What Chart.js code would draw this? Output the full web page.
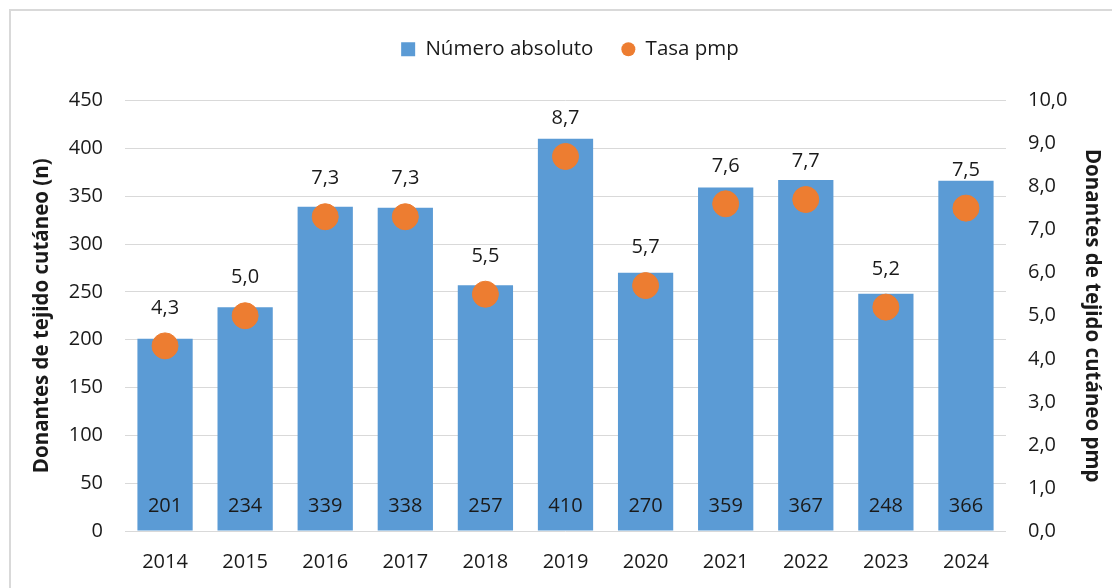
<!DOCTYPE html>
<html>
<head>
<meta charset="utf-8">
<script src="https://cdn.jsdelivr.net/npm/chart.js@4/dist/chart.umd.min.js"></script>
<style>
html,body{margin:0;padding:0;background:#fff;}
#wrap{width:1112px;height:588px;position:relative;}
</style>
</head>
<body>
<div id="wrap"><canvas id="c" width="1112" height="588"></canvas></div>
<script>
const categories = ['2014','2015','2016','2017','2018','2019','2020','2021','2022','2023','2024'];
const absoluteValues = [201,234,339,338,257,410,270,359,367,248,366];
const rateValues = [4.3,5.0,7.3,7.3,5.5,8.7,5.7,7.6,7.7,5.2,7.5];
const leftTickValues = [0,50,100,150,200,250,300,350,400,450];
const rightTickValues = [0,1,2,3,4,5,6,7,8,9,10];

const FONT = "'Open Sans', sans-serif";
const TXT = '#1a1a1a';
const TICK_SIZE = 20;

const frame = {
  id:'frame',
  afterInit(chart){
    const lg = chart.legend;
    if (lg && !lg._patched) {
      const orig = lg.fit.bind(lg);
      lg.fit = function(){ orig(); this.height += 31; };
      lg._patched = true;
    }
  },
  beforeDraw(chart){
    const ctx = chart.ctx;
    ctx.save();
    ctx.fillStyle='#fff';
    ctx.fillRect(0,0,chart.width,chart.height);
    ctx.strokeStyle='#d9d9d9';
    ctx.lineWidth=2;
    ctx.beginPath();
    ctx.moveTo(10,chart.height);
    ctx.lineTo(10,10);
    ctx.lineTo(chart.width,10);
    ctx.stroke();
    ctx.restore();
  }
};

const labels = {
  id:'labels',
  afterDatasetsDraw(chart){
    const ctx = chart.ctx;
    ctx.save();
    ctx.font = TICK_SIZE + "px " + FONT;
    ctx.fillStyle = TXT;
    ctx.textAlign='center';
    ctx.textBaseline='middle';
    const y0 = chart.scales.y.getPixelForValue(0);
    chart.getDatasetMeta(0).data.forEach((el,i)=>{
      ctx.fillText(String(absoluteValues[i]), el.x, y0-25);
    });
    chart.getDatasetMeta(1).data.forEach((el,i)=>{
      ctx.fillText(rateValues[i].toFixed(1).replace('.',','), el.x, el.y-38);
    });
    ctx.restore();
  }
};

new Chart(document.getElementById('c'), {
  type:'bar',
  data:{
    labels:categories,
    datasets:[
      {
        type:'bar',
        label:'Número absoluto',
        data:absoluteValues,
        backgroundColor:'#5B9BD5',
        borderColor:'#5B9BD5',
        borderWidth:0,
        categoryPercentage:1,
        barPercentage:0.69,
        yAxisID:'y',
        order:2
      },
      {
        type:'line',
        label:'Tasa pmp',
        data:rateValues,
        showLine:false,
        pointRadius:13,
        pointHoverRadius:13,
        pointBackgroundColor:'#ED7D31',
        pointBorderColor:'#ED7D31',
        backgroundColor:'#ED7D31',
        borderColor:'#ED7D31',
        pointStyle:'circle',
        yAxisID:'y1',
        order:1
      }
    ]
  },
  options:{
    responsive:false,
    animation:false,
    layout:{padding:{left:30,right:2,top:11,bottom:3}},
    plugins:{
      tooltip:{enabled:false},
      legend:{
        position:'top',
        labels:{
          usePointStyle:false,
          useBorderRadius:true,
          borderRadius:0,
          font:{family:FONT,size:20.5},
          color:TXT,
          boxWidth:14,
          boxHeight:14,
          padding:28,
          generateLabels(chart){
            return [
              {text:'Número absoluto',fillStyle:'#5B9BD5',strokeStyle:'#5B9BD5',lineWidth:0,borderRadius:0,datasetIndex:0,fontColor:TXT},
              {text:'Tasa pmp',fillStyle:'#ED7D31',strokeStyle:'#ED7D31',lineWidth:0,borderRadius:7,datasetIndex:1,fontColor:TXT}
            ];
          }
        }
      }
    },
    scales:{
      x:{
        grid:{display:false},
        border:{display:false},
        ticks:{font:{family:FONT,size:TICK_SIZE},color:TXT,padding:11}
      },
      y:{
        position:'left',
        min:0,max:450,
        afterBuildTicks(s){ s.ticks = leftTickValues.map(v=>({value:v})); },
        grid:{color:'#d9d9d9',drawTicks:false,lineWidth:1},
        border:{display:false},
        ticks:{font:{family:FONT,size:TICK_SIZE},color:TXT,padding:22},
        title:{display:true,text:'Donantes de tejido cutáneo (n)',font:{family:FONT,size:20.5,weight:'bold'},color:TXT,padding:{top:0,bottom:6}},
        afterFit(s){ s.width = 95; }
      },
      y1:{
        position:'right',
        min:0,max:10,
        afterBuildTicks(s){ s.ticks = rightTickValues.map(v=>({value:v})); },
        grid:{display:false,drawTicks:false},
        border:{display:false},
        ticks:{font:{family:FONT,size:TICK_SIZE},color:TXT,padding:22,callback:(v)=>Number(v).toFixed(1).replace('.',',')},
        title:{display:true,text:'Donantes de tejido cutáneo pmp',font:{family:FONT,size:20.5,weight:'bold'},color:TXT,padding:{top:6,bottom:0}},
        afterFit(s){ s.width = 104; }
      }
    }
  },
  plugins:[frame,labels]
});
</script>
</body>
</html>
